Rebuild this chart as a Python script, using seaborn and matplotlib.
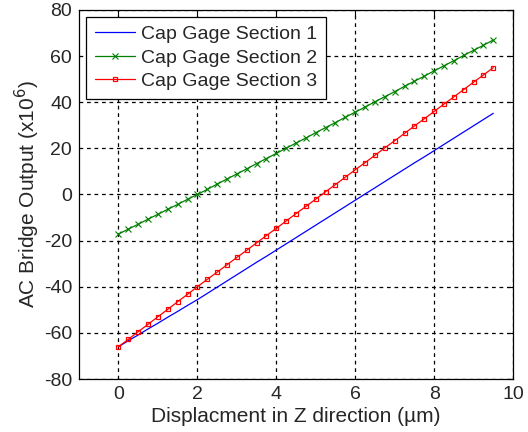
import matplotlib
matplotlib.use("Agg")
import matplotlib.pyplot as plt
import seaborn as sns
import pandas as pd

x_um = [0.0, 0.25, 0.5, 0.75, 1.0, 1.25, 1.5, 1.75, 2.0, 2.25, 2.5, 2.75, 3.0, 3.25,
        3.5, 3.75, 4.0, 4.25, 4.5, 4.75, 5.0, 5.25, 5.5, 5.75, 6.0, 6.25, 6.5, 6.75,
        7.0, 7.25, 7.5, 7.75, 8.0, 8.25, 8.5, 8.75, 9.0, 9.25, 9.5]

section1 = [-66.0, -63.4, -60.9, -58.3, -55.8, -53.2, -50.7, -48.1, -45.6, -42.9,
            -40.2, -37.5, -34.8, -32.1, -29.4, -26.8, -24.1, -21.4, -18.7, -16.0,
            -13.3, -10.6, -7.9, -5.2, -2.5, 0.2, 2.9, 5.6, 8.3, 11.0, 13.7, 16.3,
            19.0, 21.7, 24.4, 27.1, 29.8, 32.5, 35.2]

section2 = [-17.2, -15.0, -12.9, -10.7, -8.6, -6.4, -4.3, -2.1, 0.0, 2.2, 4.5, 6.7,
            8.9, 11.1, 13.4, 15.6, 17.8, 20.1, 22.3, 24.5, 26.8, 29.0, 31.2, 33.5,
            35.7, 37.9, 40.2, 42.4, 44.6, 46.9, 49.1, 51.3, 53.6, 55.8, 58.0, 60.3,
            62.5, 64.7, 67.0]

section3 = [-66.0, -62.8, -59.5, -56.3, -53.0, -49.8, -46.5, -43.3, -40.0, -36.8,
            -33.7, -30.5, -27.3, -24.2, -21.0, -17.8, -14.7, -11.5, -8.3, -5.2,
            -2.0, 1.2, 4.3, 7.5, 10.7, 13.8, 17.0, 20.2, 23.3, 26.5, 29.7, 32.8,
            36.0, 39.2, 42.3, 45.5, 48.7, 51.8, 55.0]

labels = ["Cap Gage Section 1", "Cap Gage Section 2", "Cap Gage Section 3"]
x_ticks = [0, 2, 4, 6, 8, 10]
y_ticks = [-80, -60, -40, -20, 0, 20, 40, 60, 80]

sns.set_style("white")
plt.rcParams["font.family"] = ["Liberation Sans", "DejaVu Sans"]
plt.rcParams["axes.unicode_minus"] = False

fig = plt.figure(figsize=(5.28, 4.32), dpi=100)
ax = fig.add_axes([79 / 528, 1 - 379 / 432, (513 - 79) / 528, (379 - 10) / 432])

series = [section1, section2, section3]
colors = ["#0000ff", "#008000", "#ff0000"]
marker_kw = [
    dict(marker=None),
    dict(marker="x", markersize=4.5, markeredgewidth=0.8, markeredgecolor="#008000"),
    dict(marker="s", markersize=3.0, markeredgewidth=0.9, markerfacecolor="none",
         markeredgecolor="#ff0000"),
]

for lab, ys, col, mk in zip(labels, series, colors, marker_kw):
    df = pd.DataFrame({"x": x_um, "y": ys})
    sns.lineplot(data=df, x="x", y="y", color=col, linewidth=0.9, label=lab,
                 ax=ax, sort=False, **mk)

ax.set_xlim(-1, 10)
ax.set_ylim(-80, 80)
ax.set_xticks(x_ticks)
ax.set_yticks(y_ticks)
ax.tick_params(direction="in", top=True, right=True, length=4, width=0.8,
               labelsize=14, color="black", pad=5)
ax.grid(True, color="black", linestyle=(0, (3, 3)), linewidth=0.9)
for s in ax.spines.values():
    s.set_visible(True)
    s.set_color("black")
    s.set_linewidth(0.9)

ax.set_xlabel("Displacment in Z direction (\u00b5m)", fontsize=15, labelpad=3)
ax.set_ylabel("AC Bridge Output (x10$^6$)", fontsize=15, labelpad=1)

leg = ax.legend(loc="upper left", fontsize=14, frameon=True, fancybox=False,
                edgecolor="black", framealpha=1, handlelength=2.1,
                handletextpad=0.3, borderaxespad=0.35, borderpad=0.45,
                labelspacing=0.3)
leg.get_frame().set_linewidth(0.9)

fig.savefig("out.png", dpi=100)
